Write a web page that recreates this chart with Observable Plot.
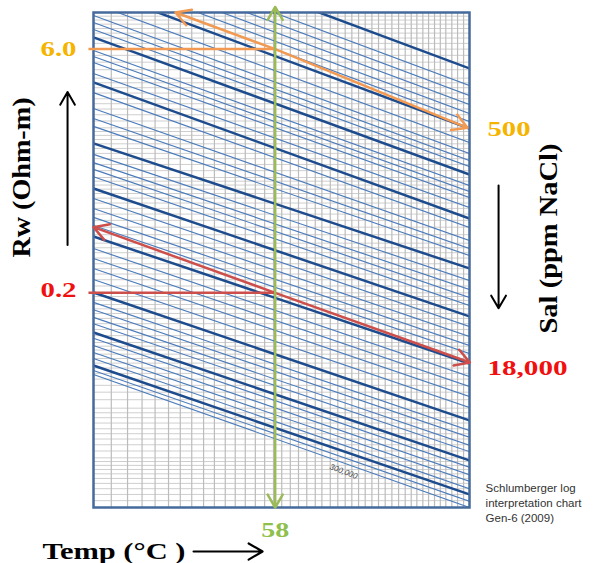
<!DOCTYPE html>
<html><head><meta charset="utf-8">
<script src="https://cdn.jsdelivr.net/npm/d3@7"></script>
<script src="https://cdn.jsdelivr.net/npm/@observablehq/plot@0.6"></script>
<style>
body{margin:0;background:#fff;}
#chart{width:599px;height:563px;}
</style></head><body><div id="chart"></div>
<script>
// ---- data ----
const tOffset = 21.5;               // temperature offset (°C) of the chart's log temperature axis
const tempDomain = [9, 200];        // °C
const rwDomain = [0.01, 10];        // ohm-m

// vertical grid temperatures (°C)
const vGridTemps = [12,15,17.9,20.7,23.8,26.7,29.7,33,36.2,39.6,42.9,46.4,50.1,53.7,57.3,60.8,64.6,68.4,72.4,76.7,80.2,84.8,89.1,93.5,97.6,101.9,106.3,110.9,115.6,120.5,125.6,130.9,136.3,141.4,146.3,151.7,157,162.7,168.4,174,180.3,186.5,193.2];
// horizontal log grid
const hGridDecades = [0.01, 0.1, 1];
const hGridSteps = [1,1.1,1.2,1.3,1.4,1.5,1.6,1.7,1.8,1.9,2,2.2,2.4,2.6,2.8,3,3.25,3.5,3.75,4,4.5,5,5.5,6,6.5,7,7.5,8,8.5,9,9.5];

// salinity lines: Rw at the left edge (9 °C) and right edge (200 °C)
const salRwAt9C = [32.3,25.5,22.2,19.5,17.2,15.4,13.98,11.34,9.59,8.70,7.89,7.06,5.88,5.41,4.98,4.27,3.77,3.27,2.62,2.28,2.04,1.61,1.38,1.23,1.12,1.01,0.858,0.746,0.649,0.573,0.512,0.439,0.371,0.323,0.281,0.241,0.201,0.175,0.158,0.142,0.130,0.115,0.106,0.0959,0.0870,0.0800,0.0725,0.0677,0.0640];
const salRwAt200C = [4.58,3.61,3.14,2.77,2.44,2.18,1.98,1.63,1.398,1.268,1.166,1.043,0.894,0.823,0.756,0.658,0.564,0.498,0.415,0.371,0.337,0.281,0.2375,0.2096,0.1874,0.1676,0.1438,0.125,0.1088,0.0959,0.0858,0.0746,0.0622,0.0541,0.0471,0.0404,0.0337,0.0293,0.0266,0.0238,0.0218,0.0193,0.0175,0.0158,0.0144,0.0130,0.0120,0.0109,0.0100];
const salBold = [1,0,0,0,0,0,1,0,0,0,0,1,0,0,0,0,1,0,0,0,0,1,0,0,0,0,1,0,0,0,0,1,0,0,0,0,1,0,0,0,0,1,0,0,0,0,1,0,0];

// worked example readings
const readTemp = 58;
const readRw = [6.0, 0.2];
const readSal = ["500", "18,000"];
const orangeArrowEnds = [{t: 25.5, rw: 10}, {t: 197.7, rw: 2.0}];
const redArrowEnds = [{t: 9, rw: 0.5}, {t: 200.5, rw: 0.0757}];
const readLineStartTemp = 8.2;
const greenEnds = [10.8, 0.01];

const textWidths = {"6.0":36, "0.2":36, "500":43, "18,000":80, "58":28, "Rw (Ohm-m)":160, "Sal (ppm NaCl)":190, "Temp (°C )":143};

// ---- build tables ----
const tx = t => t + tOffset;
const hGrid = hGridDecades.flatMap(d => hGridSteps.map(s => d * s)).concat([10]);
const salRows = salRwAt9C.flatMap((rw, i) => [
  {id: i, t: tempDomain[0], rw, bold: salBold[i]},
  {id: i, t: tempDomain[1], rw: salRwAt200C[i], bold: salBold[i]}
]);

const serif = "Liberation Serif, Times New Roman, serif";
const gold = "#f5b400", red = "#f01010", green = "#8fc04c";
const orangeLine = "#f39a52", redLine = "#cc4f4c", greenLine = "#9bbb59";

const arrowsFrom = (ends, t0, rw0) => ends.map(e => ({x1: t0, y1: rw0, x2: e.t, y2: e.rw}));

const chart = Plot.plot({
  width: 599, height: 563,
  marginLeft: 93, marginRight: 130, marginTop: 12, marginBottom: 56,
  x: {type: "log", domain: tempDomain.map(tx), axis: null},
  y: {type: "log", domain: rwDomain, axis: null},
  style: {background: "white", overflow: "visible"},
  marks: [
    Plot.ruleY(hGrid, {stroke: "#cfcfcf", strokeWidth: 1}),
    Plot.ruleX(vGridTemps.map(tx), {stroke: "#bcbcbc", strokeWidth: 1.2}),
    Plot.line(salRows.filter(d => !d.bold), {x: d => tx(d.t), y: "rw", z: "id", stroke: "#4a7bbb", strokeWidth: 1.15, clip: true}),
    Plot.line(salRows.filter(d => d.bold), {x: d => tx(d.t), y: "rw", z: "id", stroke: "#1d4c8e", strokeWidth: 2.5, clip: true}),
    Plot.frame({stroke: "#456a9c", strokeWidth: 2.5}),
    // orange reading
    Plot.link([{x1: readLineStartTemp, x2: readTemp, y: readRw[0]}], {x1: d => tx(d.x1), x2: d => tx(d.x2), y1: "y", y2: "y", stroke: orangeLine, strokeWidth: 2.5}),
    Plot.arrow(arrowsFrom(orangeArrowEnds, readTemp, readRw[0]), {x1: d => tx(d.x1), y1: "y1", x2: d => tx(d.x2), y2: "y2", stroke: orangeLine, strokeWidth: 2.5, headLength: 10}),
    // red reading
    Plot.link([{x1: readLineStartTemp, x2: readTemp, y: readRw[1]}], {x1: d => tx(d.x1), x2: d => tx(d.x2), y1: "y", y2: "y", stroke: redLine, strokeWidth: 2.5}),
    Plot.arrow(arrowsFrom(redArrowEnds, readTemp, readRw[1]), {x1: d => tx(d.x1), y1: "y1", x2: d => tx(d.x2), y2: "y2", stroke: redLine, strokeWidth: 2.5, headLength: 10}),
    // green temperature line
    Plot.arrow(greenEnds.map(rw => ({x: readTemp, y1: 0.3, y2: rw})), {x1: d => tx(d.x), x2: d => tx(d.x), y1: "y1", y2: "y2", stroke: greenLine, strokeWidth: 2.5, headLength: 9}),
    // value labels
    Plot.text([readRw[0].toFixed(1)], {frameAnchor: "left", y: [readRw[0]], dx: -17, textAnchor: "end", fill: gold, fontSize: 20, fontWeight: "bold", fontFamily: serif}),
    Plot.text([readRw[1].toFixed(1)], {frameAnchor: "left", y: [0.205], dx: -17, textAnchor: "end", fill: red, fontSize: 20, fontWeight: "bold", fontFamily: serif}),
    Plot.text([readSal[0]], {frameAnchor: "right", y: [1.95], dx: 18, textAnchor: "start", fill: gold, fontSize: 21, fontWeight: "bold", fontFamily: serif}),
    Plot.text([readSal[1]], {frameAnchor: "right", y: [0.07], dx: 18, textAnchor: "start", fill: red, fontSize: 21, fontWeight: "bold", fontFamily: serif}),
    Plot.text([String(readTemp)], {x: [tx(readTemp)], y: [0.00725], fill: green, fontSize: 21, fontWeight: "bold", fontFamily: serif}),
    // axis titles
    Plot.text(["Rw (Ohm-m)"], {x: [tx(-0.6)], y: [1.0], rotate: -90, textAnchor: "middle", fill: "#000", fontSize: 25, fontWeight: "bold", fontFamily: serif}),
    Plot.arrow([{x: 5.1, y1: 0.39, y2: 3.3}], {x1: d => tx(d.x), x2: d => tx(d.x), y1: "y1", y2: "y2", stroke: "#000", strokeWidth: 2, headLength: 11}),
    Plot.text(["Sal (ppm NaCl)"], {frameAnchor: "right", y: [0.427], dx: 79, rotate: -90, textAnchor: "middle", fill: "#000", fontSize: 25, fontWeight: "bold", fontFamily: serif}),
    Plot.arrow([{x: 236.7, y1: 0.894, y2: 0.161}], {x1: d => tx(d.x), x2: d => tx(d.x), y1: "y1", y2: "y2", stroke: "#000", strokeWidth: 2, headLength: 11}),
    Plot.text(["Temp (°C )"], {x: [tx(1.8)], y: [0.0054], textAnchor: "start", fill: "#000", fontSize: 24, fontWeight: "bold", fontFamily: serif}),
    Plot.arrow([{x1: 30.2, x2: 52.9, y: 0.00541}], {x1: d => tx(d.x1), x2: d => tx(d.x2), y1: "y", y2: "y", stroke: "#000", strokeWidth: 2.2, headLength: 11}),
    // source note
    Plot.text(["Schlumberger log", "interpretation chart", "Gen-6 (2009)"], {x: [tx(219.6), tx(219.6), tx(219.6)], y: [0.01304, 0.01057, 0.00858], textAnchor: "start", fill: "#333", fontSize: 11.5, fontFamily: "Liberation Sans, Arial, sans-serif"}),
    Plot.text(["300,000"], {x: [tx(92.5)], y: [0.01653], rotate: 21, fill: "#444", fontSize: 8, fontStyle: "italic", fontFamily: "Liberation Sans, Arial, sans-serif"})
  ]
});

d3.select(chart).selectAll("text").each(function() {
  const w = textWidths[this.textContent];
  if (w) d3.select(this).attr("textLength", w).attr("lengthAdjust", "spacingAndGlyphs");
});
document.getElementById("chart").appendChild(chart);
</script></body></html>
